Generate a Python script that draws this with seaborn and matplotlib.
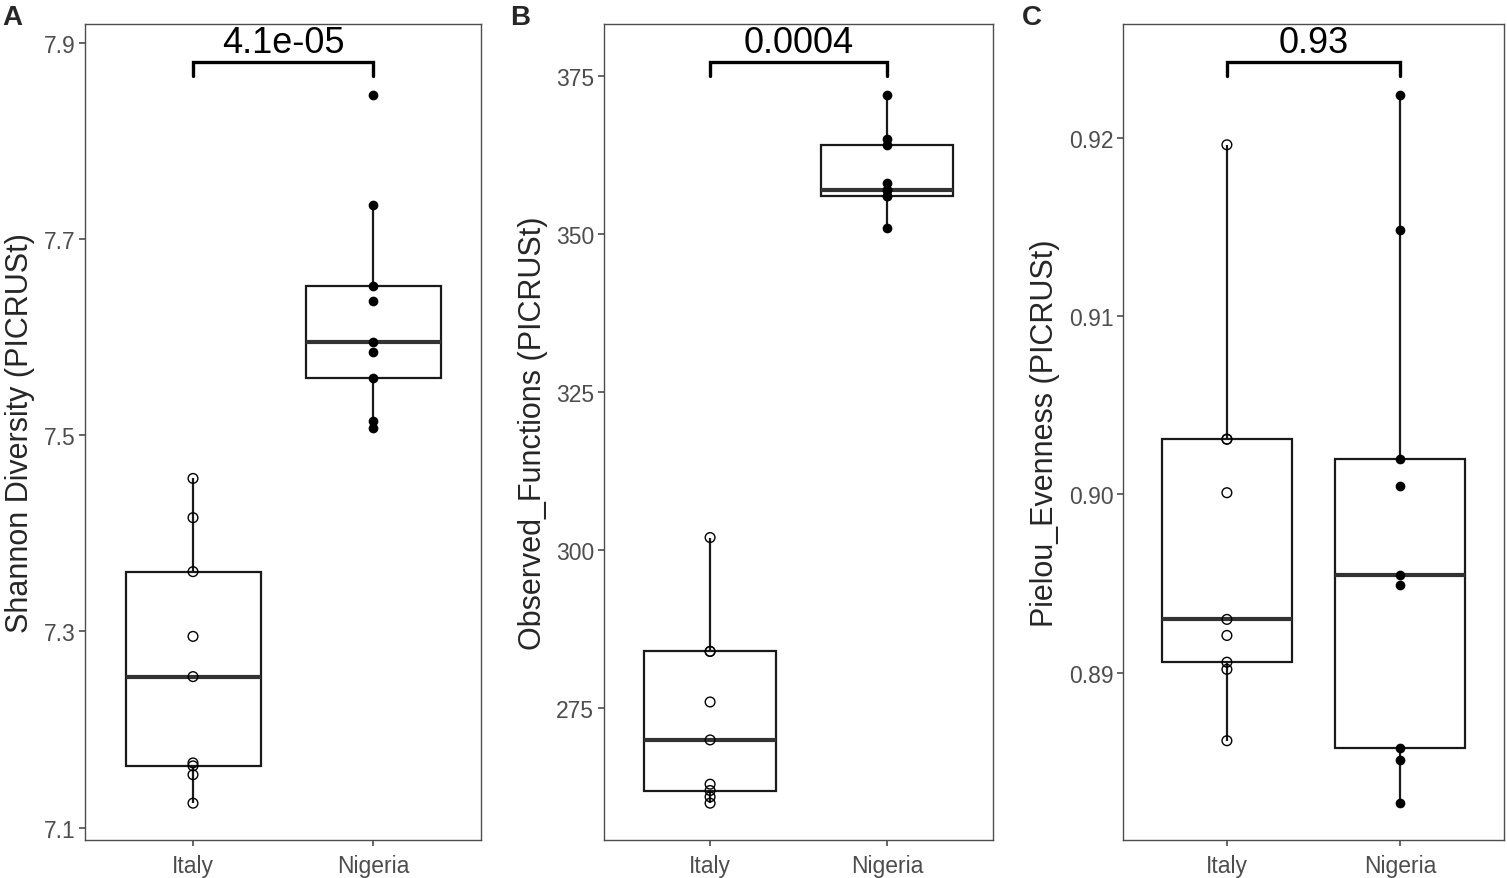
import numpy as np
import pandas as pd
import matplotlib
matplotlib.use('Agg')
import matplotlib.pyplot as plt
import seaborn as sns

# groups
groups = ['Italy', 'Nigeria']

# Shannon diversity (panel A)
shannon_italy = [7.125, 7.154, 7.163, 7.166, 7.254, 7.295, 7.361, 7.416, 7.456]
shannon_nigeria = [7.507, 7.515, 7.558, 7.585, 7.595, 7.637, 7.652, 7.735, 7.847]

# Observed functions (panel B)
functions_italy = [260, 261, 262, 263, 270, 276, 284, 284, 302]
functions_nigeria = [351, 356, 356, 357, 357, 358, 364, 365, 372]

# Pielou evenness (panel C)
pielou_italy = [0.8862, 0.8902, 0.8906, 0.8921, 0.8930, 0.9001, 0.9031, 0.9031, 0.9196]
pielou_nigeria = [0.8827, 0.8851, 0.8858, 0.8949, 0.8955, 0.9005, 0.9020, 0.9148, 0.9224]

ylabels = ['Shannon Diversity (PICRUSt)', 'Observed_Functions (PICRUSt)',
           'Pielou_Evenness (PICRUSt)']
pvalues = ['4.1e-05', '0.0004', '0.93']
yticks = [[7.1, 7.3, 7.5, 7.7, 7.9], [275, 300, 325, 350, 375], [0.89, 0.90, 0.91, 0.92]]
ytick_fmt = ['{:.1f}', '{:.0f}', '{:.2f}']
letters = ['A', 'B', 'C']

sns.set_style('ticks')
plt.rcParams['font.family'] = ['Liberation Sans', 'DejaVu Sans']

fig = plt.figure(figsize=(15.07, 8.79), dpi=100)
lefts = [85, 604, 1123]
rights = [481, 993, 1504]
letter_x = [2, 510, 1022]
W, H = 1507, 879
bottom = 1 - 841 / H
height = (841 - 25) / H

data = [(shannon_italy, shannon_nigeria), (functions_italy, functions_nigeria),
        (pielou_italy, pielou_nigeria)]

for i in range(3):
    ax = fig.add_axes([lefts[i] / W, bottom, (rights[i] - lefts[i]) / W, height])
    italy, nigeria = data[i]
    df = pd.DataFrame({'Country': ['Italy'] * len(italy) + ['Nigeria'] * len(nigeria),
                       'value': italy + nigeria})

    sns.boxplot(data=df, x='Country', y='value', order=groups, width=0.75,
                color='white', linecolor='#1a1a1a', linewidth=1.6,
                showfliers=False, showcaps=False,
                medianprops={'linewidth': 3.0, 'color': '#333333'}, ax=ax)

    # Italy: open circles
    n_before = len(ax.collections)
    sns.stripplot(data=df[df['Country'] == 'Italy'], x='Country', y='value',
                  order=groups, jitter=False, color='black', size=7,
                  linewidth=1, edgecolor='black', ax=ax)
    for coll in ax.collections[n_before:]:
        coll.set_facecolor('none')
        coll.set_edgecolor('black')
        coll.set_linewidth(1.0)
    # Nigeria: filled circles
    sns.stripplot(data=df[df['Country'] == 'Nigeria'], x='Country', y='value',
                  order=groups, jitter=False, color='black', size=7,
                  linewidth=0, ax=ax)

    vmin, vmax = min(italy + nigeria), max(italy + nigeria)
    r = vmax - vmin
    by = vmax + 0.047 * r
    ax.plot([0, 0, 1, 1], [by - 0.02 * r, by, by, by - 0.02 * r],
            color='black', lw=2.4, solid_joinstyle='miter')
    ax.text(0.5, by + 0.002 * r, pvalues[i], ha='center', va='bottom',
            fontsize=26, color='black')

    ax.set_ylim(vmin - 0.052 * r, vmax + 0.10 * r)
    ax.set_xlim(-0.6, 1.6)
    ax.set_yticks(yticks[i])
    ax.set_yticklabels([ytick_fmt[i].format(t) for t in yticks[i]])
    ax.set_xlabel('')
    ax.set_ylabel(ylabels[i], fontsize=22, labelpad=6)
    ax.tick_params(axis='both', labelsize=16.5, colors='#4d4d4d', length=4,
                   width=1.2, direction='out', pad=3)
    ax.tick_params(axis='x', pad=6)
    for s in ax.spines.values():
        s.set_visible(True)
        s.set_color('#4d4d4d')
        s.set_linewidth(1.0)

    fig.text(letter_x[i] / W, 1 - 25 / H, letters[i], fontsize=20,
             fontweight='bold', ha='left', va='baseline')

fig.savefig('out.png', dpi=100)
